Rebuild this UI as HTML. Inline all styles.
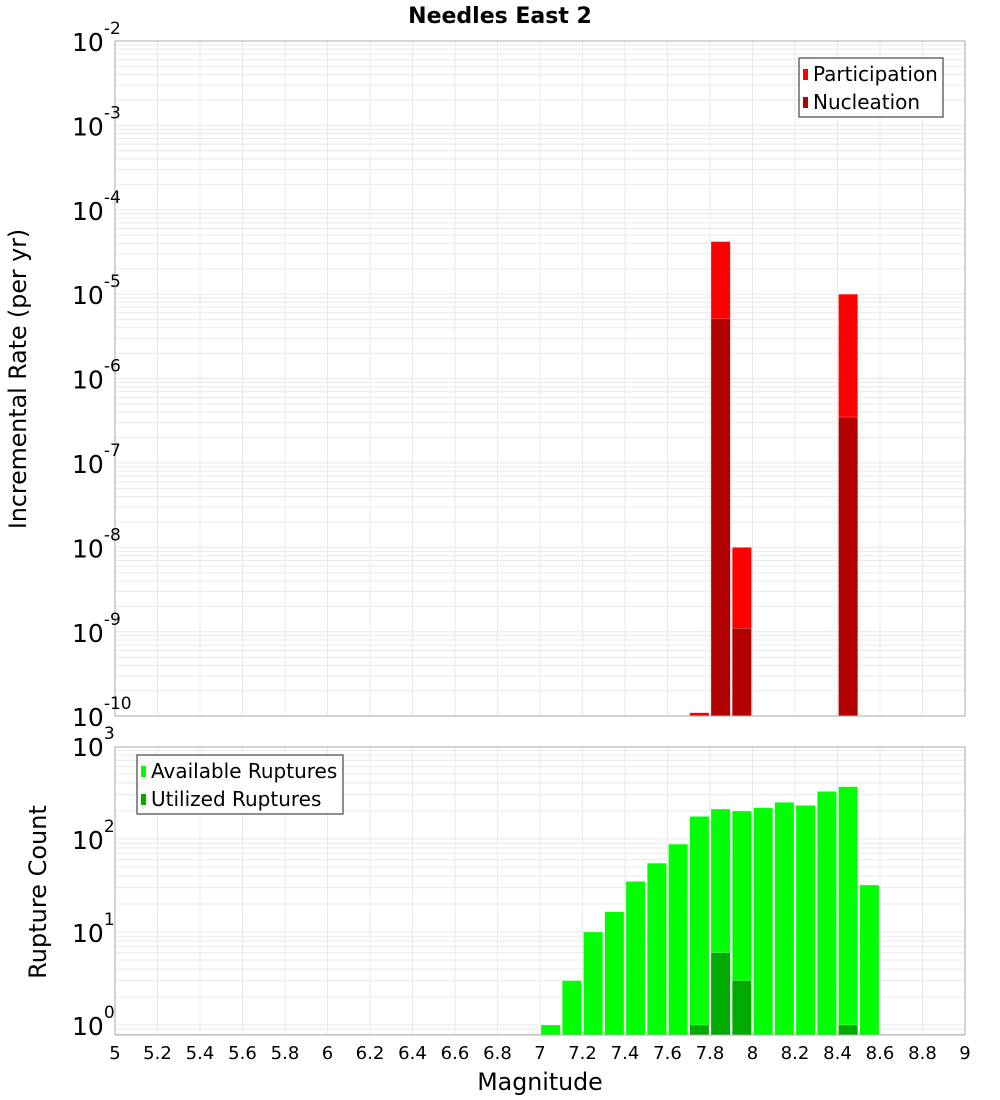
<!DOCTYPE html>
<html><head><meta charset="utf-8"><style>
body{margin:0;background:#fff;}
svg{display:block;font-family:"DejaVu Sans","Liberation Sans",sans-serif;}
</style></head><body>
<svg id="c" width="1000" height="1100" viewBox="0 0 1000 1100" xmlns="http://www.w3.org/2000/svg">
<text x="500" y="23" text-anchor="middle" font-size="22" font-weight="bold">Needles East 2</text>
<g id="g"></g>
</svg>
<script>
const binCenters = [7.05,7.15,7.25,7.35,7.45,7.55,7.65,7.75,7.85,7.95,8.05,8.15,8.25,8.35,8.45,8.55];
const participation = [0,0,0,0,0,0,0,1.1e-10,4.2e-5,1.0e-8,0,0,0,0,1.0e-5,0];
const nucleation = [0,0,0,0,0,0,0,0,5.1e-6,1.1e-9,0,0,0,0,3.5e-7,0];
const available = [1,3,10,16.5,35,55,88,175,210,200,217,248,230,325,365,32];
const utilized = [0,0,0,0,0,0,0,1,6,3,0,0,0,0,1,0];
const xTicks = [5,5.2,5.4,5.6,5.8,6,6.2,6.4,6.6,6.8,7,7.2,7.4,7.6,7.8,8,8.2,8.4,8.6,8.8,9];
const topExps = [-2,-3,-4,-5,-6,-7,-8,-9,-10];
const botExps = [3,2,1,0];

const NS="http://www.w3.org/2000/svg";
const G=document.getElementById('g');
function mk(t,a,p){const e=document.createElementNS(NS,t);for(const k in a)e.setAttribute(k,a[k]);(p||G).appendChild(e);return e;}
const X0=115,X1=965;
const xs=v=>X0+(v-5)/(9-5)*(X1-X0);
const T0=41,T1=716; const ty=v=>T0+(-2-Math.log10(v))*84.4;
const B0=747,B1=1035; const by=v=>746+(3-Math.log10(v))*93;
const bw=(xs(5.1)-xs(5))-2;

function grid(top,bot,yf,lo,hi){
  for(let d=lo;d<hi;d++)for(let m=1;m<10;m++){const y=yf(m*Math.pow(10,d));if(y>=top&&y<=bot){const l=mk('line',{x1:X0,x2:X1,y1:y,y2:y,stroke:'#e9e9e9','stroke-width':1});

}}
  xTicks.forEach(t=>{const x=xs(t);const l=mk('line',{x1:x,x2:x,y1:top,y2:bot,stroke:'#e9e9e9','stroke-width':1});

});
}
grid(T0,T1,ty,-10,-1);
grid(B0,B1,by,-1,3);

function bar(c,v,yf,bot,fill,name){if(!v)return;const y=yf(v);const r=mk('rect',{x:xs(c)-bw/2,y:y,width:bw,height:bot-y,fill:fill,stroke:'#ffffff','stroke-opacity':0.5,'stroke-width':0.5});

}
binCenters.forEach((c,i)=>{bar(c,participation[i],ty,T1,'#ff0000','participation-bar');bar(c,nucleation[i],ty,T1,'#b30000','nucleation-bar');});
binCenters.forEach((c,i)=>{bar(c,available[i],by,B1,'#00ff00','available-bar');bar(c,utilized[i],by,B1,'#00aa00','utilized-bar');});

let f=mk('rect',{x:X0,y:T0,width:X1-X0,height:T1-T0,fill:'none',stroke:'#aaa','stroke-width':1});

f=mk('rect',{x:X0,y:B0,width:X1-X0,height:B1-B0,fill:'none',stroke:'#aaa','stroke-width':1});


function ylab(y,e){const t=mk('text',{x:72,y:y+10,'text-anchor':'start','font-size':25});


t.textContent='10';
const s=mk('tspan',{dy:-17,'font-size':17},t);s.textContent=String(e);}
topExps.forEach(e=>ylab(ty(Math.pow(10,e)),e));
botExps.forEach(e=>ylab(by(Math.pow(10,e)),e));

xTicks.forEach(t=>{const l=mk('text',{x:xs(t),y:1059,'text-anchor':'middle','font-size':18});


l.textContent=String(t);});

let a=mk('text',{x:540,y:1090,'text-anchor':'middle','font-size':23.7});
a.textContent='Magnitude';
a=mk('text',{x:0,y:0,'text-anchor':'middle','font-size':23.7,transform:'translate(26,379) rotate(-90)'});
a.textContent='Incremental Rate (per yr)';
a=mk('text',{x:0,y:0,'text-anchor':'middle','font-size':24,transform:'translate(46,892) rotate(-90)'});
a.textContent='Rupture Count';

function legend(x,y,w,items,name){const gg=mk('g',{});

mk('rect',{x:x,y:y,width:w,height:59,fill:'#fff',stroke:'#444','stroke-width':1.2},gg);
items.forEach((it,i)=>{const yy=y+16+i*28;
const sw=mk('rect',{x:x+4,y:yy-5,width:5,height:11,fill:it[1]},gg);

const t=mk('text',{x:x+14,y:yy+7,'font-size':20},gg);

t.textContent=it[0];});}
legend(799,58,144,[['Participation','#ff0000'],['Nucleation','#b30000']],'top-legend');
legend(137,755,206,[['Available Ruptures','#00ff00'],['Utilized Ruptures','#00aa00']],'bottom-legend');
</script>
</body></html>
